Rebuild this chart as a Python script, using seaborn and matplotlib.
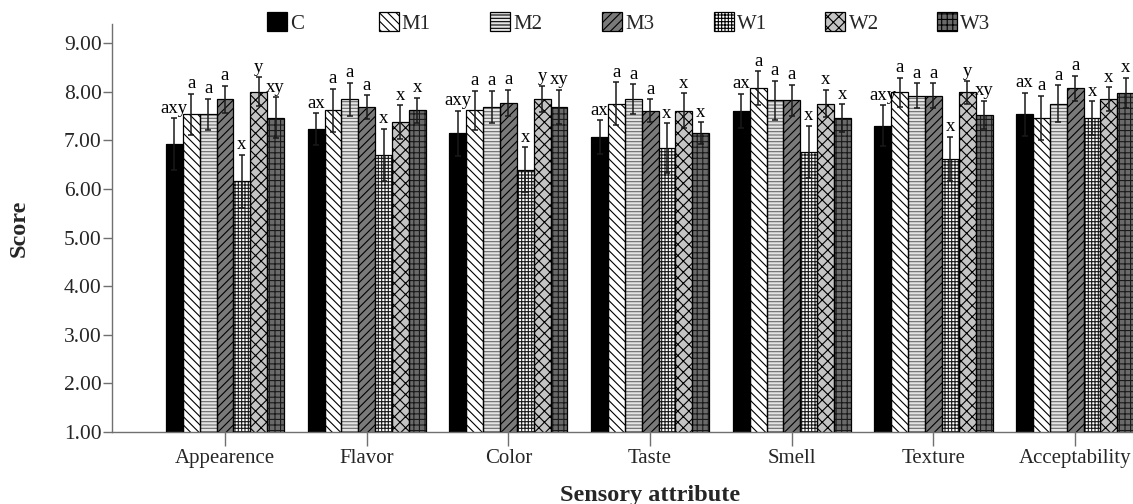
import matplotlib
matplotlib.use("Agg")
import matplotlib.pyplot as plt
import matplotlib.patches as mpatches
import seaborn as sns
import pandas as pd
import numpy as np

# ---------------- data ----------------
categories = ['Appearence', 'Flavor', 'Color', 'Taste', 'Smell', 'Texture', 'Acceptability']
samples = ['C', 'M1', 'M2', 'M3', 'W1', 'W2', 'W3']

C_mean  = [6.93, 7.23, 7.15, 7.07, 7.61, 7.30, 7.54]
M1_mean = [7.54, 7.62, 7.62, 7.76, 8.07, 7.99, 7.46]
M2_mean = [7.54, 7.85, 7.69, 7.85, 7.83, 7.92, 7.76]
M3_mean = [7.85, 7.69, 7.77, 7.61, 7.83, 7.92, 8.07]
W1_mean = [6.16, 6.70, 6.40, 6.85, 6.76, 6.62, 7.46]
W2_mean = [8.00, 7.38, 7.85, 7.61, 7.76, 7.99, 7.85]
W3_mean = [7.47, 7.62, 7.69, 7.15, 7.46, 7.53, 7.98]

C_err  = [0.53, 0.33, 0.46, 0.35, 0.35, 0.42, 0.44]
M1_err = [0.42, 0.44, 0.40, 0.44, 0.35, 0.30, 0.46]
M2_err = [0.32, 0.34, 0.33, 0.31, 0.40, 0.26, 0.38]
M3_err = [0.28, 0.24, 0.27, 0.24, 0.32, 0.26, 0.26]
W1_err = [0.55, 0.54, 0.46, 0.51, 0.54, 0.46, 0.35]
W2_err = [0.30, 0.35, 0.27, 0.36, 0.28, 0.23, 0.24]
W3_err = [0.42, 0.26, 0.35, 0.22, 0.29, 0.29, 0.31]

C_sig  = ['axy', 'ax', 'axy', 'ax', 'ax', 'axy', 'ax']
M1_sig = ['a', 'a', 'a', 'a', 'a', 'a', 'a']
M2_sig = ['a', 'a', 'a', 'a', 'a', 'a', 'a']
M3_sig = ['a', 'a', 'a', 'a', 'a', 'a', 'a']
W1_sig = ['x', 'x', 'x', 'x', 'x', 'x', 'x']
W2_sig = ['y', 'x', 'y', 'x', 'x', 'y', 'x']
W3_sig = ['xy', 'x', 'xy', 'x', 'x', 'xy', 'x']

y_ticks = [1, 2, 3, 4, 5, 6, 7, 8, 9]

means = dict(C=C_mean, M1=M1_mean, M2=M2_mean, M3=M3_mean, W1=W1_mean, W2=W2_mean, W3=W3_mean)
errs = dict(C=C_err, M1=M1_err, M2=M2_err, M3=M3_err, W1=W1_err, W2=W2_err, W3=W3_err)
sigs = dict(C=C_sig, M1=M1_sig, M2=M2_sig, M3=M3_sig, W1=W1_sig, W2=W2_sig, W3=W3_sig)

# ---------------- styles ----------------
face = dict(C='#000000', M1='#ffffff', M2='#e4e4e4', M3='#7a7a7a',
            W1='#ffffff', W2='#c4c4c4', W3='#6a6a6a')
hatch = dict(C='', M1='\\\\\\\\', M2='-----', M3='////',
             W1='+++++', W2='xxx', W3='+++')
hcol = dict(C='#000000', M1='#000000', M2='#6a6a6a', M3='#000000',
            W1='#1a1a1a', W2='#000000', W3='#1a1a1a')

sns.set_style('ticks')
plt.rcParams['font.family'] = ['Liberation Serif', 'DejaVu Serif']
plt.rcParams['hatch.linewidth'] = 0.8

rows = []
for s in samples:
    for c, v in zip(categories, means[s]):
        rows.append({'attribute': c, 'sample': s, 'score': v})
df = pd.DataFrame(rows)

W, H = 1133, 504
fig = plt.figure(figsize=(W / 100, H / 100), dpi=100)
ax_left, ax_bottom, ax_right, ax_top = 112, 432, 1188, 24
ax = fig.add_axes([ax_left / W, (H - ax_bottom) / H, (ax_right - ax_left) / W, (ax_bottom - ax_top) / H])

group_w = 0.833
sns.barplot(data=df, x='attribute', y='score', hue='sample', order=categories,
            hue_order=samples, palette=face, saturation=1, width=group_w,
            errorbar=None, legend=False, ax=ax, zorder=2)

for s, cont in zip(samples, ax.containers):
    xs = []
    wd = None
    for p in cont:
        p.set_hatch(hatch[s])
        p.set_edgecolor(hcol[s])
        p.set_linewidth(0)
        xs.append(p.get_x() + p.get_width() / 2)
        wd = p.get_width()
    # black outline
    ax.bar(xs, means[s], width=wd, fill=False, edgecolor='black', linewidth=0.9, zorder=3)
    ax.errorbar(xs, means[s], yerr=errs[s], fmt='none', ecolor='#1a1a1a',
                elinewidth=1.1, capsize=2.0, capthick=1.1, zorder=4)
    for x, m, e, t in zip(xs, means[s], errs[s], sigs[s]):
        ax.text(x, m + e + 0.03, t, ha='center', va='bottom', fontsize=13.5,
                color='black', zorder=5)

ax.set_xlim(-(225 - ax_left) / 141.7, (ax_right - 225) / 141.7)
ax.set_ylim(1, 1 + (ax_bottom - ax_top) / 48.59)
ax.set_yticks(y_ticks)
ax.set_yticklabels([f'{v:.2f}' for v in y_ticks])

for side in ['top', 'right']:
    ax.spines[side].set_visible(False)
for side in ['left', 'bottom']:
    ax.spines[side].set_color('#707070')
    ax.spines[side].set_linewidth(1.0)

ax.tick_params(axis='x', length=10, width=1, color='#707070', pad=2.5, labelsize=15)
ax.tick_params(axis='y', length=6.5, width=1, color='#707070', pad=0.8, labelsize=15.5)

ax.set_xlabel('Sensory attribute', fontsize=17.5, fontweight='bold')
ax.set_ylabel('Score', fontsize=17.5, fontweight='bold')
ax.xaxis.set_label_coords(0.5, -(485 - ax_bottom) / (ax_bottom - ax_top))
ax.yaxis.set_label_coords(-(ax_left - 30) / (ax_right - ax_left), 0.5)

# legend: one entry per sample at evenly spaced positions
fs_pt = 15
fs_px = fs_pt / 72 * 100
box_px = 20
legend_x0 = 267
legend_dx = 111.7
for i, s in enumerate(samples):
    patch = mpatches.Patch(facecolor=face[s], edgecolor='black', hatch=hatch[s], linewidth=0.9)
    try:
        patch.set_hatchcolor(hcol[s])
    except AttributeError:
        pass
    leg = fig.legend(handles=[patch], labels=[s], loc='center left',
                     bbox_to_anchor=((legend_x0 + i * legend_dx) / W, 1 - 23 / H),
                     frameon=False, borderpad=0, borderaxespad=0,
                     handlelength=box_px / fs_px, handleheight=box_px / fs_px,
                     handletextpad=3 / fs_px, fontsize=fs_pt)

fig.savefig('out.png', dpi=100)
